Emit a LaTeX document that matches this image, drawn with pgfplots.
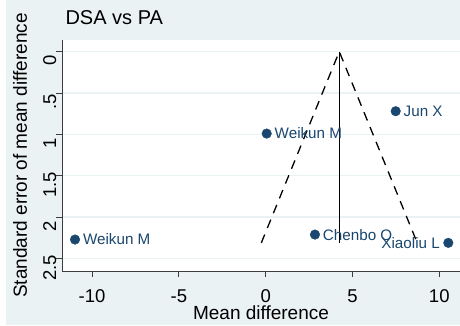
\documentclass[border=0pt]{standalone}
\usepackage{pgfplots}
\pgfplotsset{compat=1.18}
\usepackage{fontspec}
\setmainfont{Liberation Sans}
\definecolor{stbg}{HTML}{EAF2F3}
\definecolor{stnavy}{HTML}{1A476F}
\definecolor{staxis}{HTML}{3C3C3C}

\begin{document}
\begin{tikzpicture}[x=1pt,y=1pt]
\clip (0,0) rectangle (460,326);
\fill[white] (0,0) rectangle (460,326);
\fill[stbg] (6,1) rectangle (460,326);
\begin{axis}[
  at={(62pt,55pt)}, anchor=south west,
  scale only axis, width=408pt, height=231pt,
  xmin=-11.73, xmax=11.77,
  ymin=-0.14, ymax=2.65, y dir=reverse,
  axis background/.style={fill=white},
  axis x line*=bottom, axis y line*=left,
  axis line style={staxis, line width=0.9pt},
  xtick={-10,-5,0,5,10}, xticklabels={-10,-5,0,5,10},
  ytick={0,0.5,1,1.5,2,2.5}, yticklabels={0,.5,1,1.5,2,2.5},
  tick align=outside, major tick length=6pt,
  tick style={staxis, line width=0.9pt},
  ymajorgrids, grid style={stbg, line width=1.4pt},
  tick label style={font=\fontsize{18.5}{18.5}\selectfont},
  xticklabel style={anchor=base, yshift=-25pt},
  yticklabel style={rotate=90, anchor=base, xshift=-9pt},
  clip=false,
]
% pseudo 95% confidence limits and pooled estimate
\addplot[black, line width=1.3pt, dash pattern=on 9pt off 7pt]
  coordinates {(-0.25,2.31) (4.24,0) (8.73,2.31)};
\addplot[black, line width=1.3pt] coordinates {(4.24,0) (4.24,2.31)};
% studies labelled on the right
\addplot[only marks, mark=*, mark size=4.8pt, color=stnavy,
  nodes near coords, point meta=explicit symbolic,
  every node near coord/.style={anchor=west, xshift=4.5pt, text=stnavy,
    font=\fontsize{15.2}{15.2}\selectfont}]
  table[meta=label] {
  x      y     label
  -10.98 2.27  {Weikun M}
  0.06   0.99  {Weikun M}
  7.49   0.72  {Jun X}
  2.84   2.21  {Chenbo O}
};
% study labelled on the left
\addplot[only marks, mark=*, mark size=4.8pt, color=stnavy,
  nodes near coords, point meta=explicit symbolic,
  every node near coord/.style={anchor=east, xshift=-5pt, text=stnavy,
    font=\fontsize{15.2}{15.2}\selectfont}]
  table[meta=label] {
  x      y     label
  10.52  2.31  {Xiaoliu L}
};
\end{axis}
\node[anchor=base west, font=\fontsize{20}{20}\selectfont] at (62,301) {DSA vs PA};
\node[anchor=base, font=\fontsize{19}{19}\selectfont] at (261,6) {Mean difference};
\node[anchor=base, rotate=90, font=\fontsize{19}{19}\selectfont] at (27,170.5) {Standard error of mean difference};
\end{tikzpicture}
\end{document}
